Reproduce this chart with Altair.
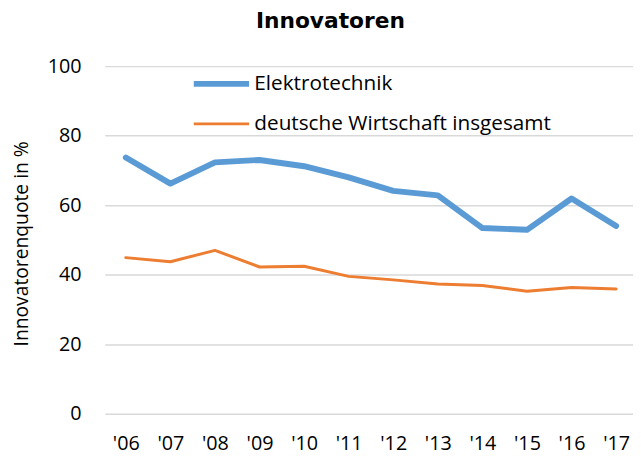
import altair as alt
import pandas as pd

years = ["'06", "'07", "'08", "'09", "'10", "'11", "'12", "'13", "'14", "'15", "'16", "'17"]
elektro = [73.7, 66.2, 72.3, 73.0, 71.2, 68.0, 64.1, 62.8, 53.4, 52.9, 61.9, 54.0]
gesamt = [44.9, 43.7, 47.0, 42.2, 42.4, 39.5, 38.5, 37.3, 36.9, 35.2, 36.3, 35.9]
series = ["Elektrotechnik", "deutsche Wirtschaft insgesamt"]
colors = ["#5B9BD5", "#ED7D31"]
widths = [6, 3]

rows = []
for name, vals in zip(series, [elektro, gesamt]):
    for y, v in zip(years, vals):
        rows.append({"Jahr": y, "Wert": v, "Reihe": name})
df = pd.DataFrame(rows)

legend_opts = dict(title=None, orient="none", legendX=87, legendY=5.5,
                   symbolType="M-1,0H5", symbolSize=348.4,
                   labelFont="Open Sans", labelFontSize=21, labelLimit=500,
                   labelColor="#000000", labelOffset=39.5,
                   rowPadding=17, padding=0)

chart = alt.Chart(df).mark_line(strokeCap="round", strokeJoin="round").encode(
    x=alt.X("Jahr:N", sort=years,
            scale=alt.Scale(type="point", padding=0.425, align=0.555),
            axis=alt.Axis(title=None, labelAngle=0, domain=False, ticks=False, grid=False,
                          labelPadding=20, labelFont="Open Sans", labelFontSize=20,
                          labelColor="#000000")),
    y=alt.Y("Wert:Q", scale=alt.Scale(domain=[0, 100], nice=False),
            axis=alt.Axis(values=[0, 20, 40, 60, 80, 100], title="Innovatorenquote in %",
                          domain=False, ticks=False, grid=True, gridColor="#D9D9D9",
                          gridWidth=1.5, labelPadding=24, labelFont="Open Sans",
                          labelFontSize=20, labelColor="#000000",
                          titleFont="Open Sans", titleFontSize=19.5, titleFontWeight="normal",
                          titleColor="#000000", titleX=-84, titleY=179.5,
                          titleAngle=270, titleBaseline="middle", titleAlign="center")),
    color=alt.Color("Reihe:N", sort=series,
                    scale=alt.Scale(domain=series, range=colors),
                    legend=alt.Legend(**legend_opts)),
    strokeWidth=alt.StrokeWidth("Reihe:N", sort=series,
                                scale=alt.Scale(domain=series, range=widths),
                                legend=alt.Legend(**legend_opts)),
).properties(
    width=535,
    height=352,
    title=alt.TitleParams("Innovatoren", font="DejaVu Sans", fontSize=22, fontWeight="bold",
                          color="#000000", anchor="middle", dx=-39, offset=24),
    autosize=alt.AutoSizeParams(type="none"),
    padding={"left": 98, "top": 56, "right": 0, "bottom": 40},
).configure_view(stroke=None)

chart.save("out.html", embed_options={"renderer": "svg", "actions": False})
